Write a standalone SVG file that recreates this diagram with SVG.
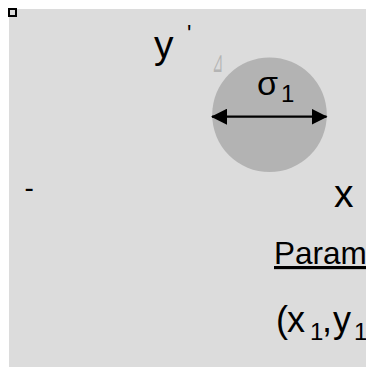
<svg xmlns="http://www.w3.org/2000/svg" width="366" height="367" viewBox="0 0 366 367">
  <style>
    .t { font-family: "Liberation Sans", Arial, sans-serif; fill: #000; }
    .faint { font-family: "DejaVu Sans", sans-serif; fill: #b4b4b4; }
  </style>
  <defs>
    <marker id="ah" viewBox="0 0 16 16" refX="15" refY="8" markerWidth="16" markerHeight="16" markerUnits="userSpaceOnUse" orient="auto-start-reverse">
      <path d="M0,0 L16,8 L0,16 Z" fill="#000"/>
    </marker>
  </defs>
  <rect x="0" y="0" width="366" height="367" fill="#ffffff"/>
  <g id="panel">
    <rect x="9" y="9" width="357" height="358" fill="#dcdcdc"/>
  </g>
  <g id="corner-handle">
    <rect x="9" y="9" width="7" height="7" fill="#dcdcdc" stroke="#000" stroke-width="2"/>
  </g>
  <g id="disk">
    <circle cx="269.5" cy="114.7" r="57.3" fill="#b3b3b3"/>
    <text class="t" x="257" y="95" font-size="34">σ</text>
    <text class="t" x="281" y="102" font-size="24">1</text>
  </g>
  <g id="axis-labels">
    <text class="t" x="154" y="58" font-size="39">y</text>
    <text class="t" x="187" y="42" font-size="23">'</text>
    <text class="t" x="334" y="206.5" font-size="39">x</text>
    <text class="t" x="24.5" y="196.7" font-size="28">-</text>
    <text class="faint" x="212" y="72" font-size="30" transform="translate(212 0) scale(0.45 1) translate(-212 0)">⊿</text>
  </g>
  <g id="params">
    <text class="t" x="274" y="264" font-size="31.5" text-decoration="underline">Param</text>
    <text class="t" x="276" y="332" font-size="36">(</text>
    <text class="t" x="287" y="332" font-size="36">x</text>
    <text class="t" x="310" y="339.5" font-size="24">1</text>
    <text class="t" x="322" y="332" font-size="36">,</text>
    <text class="t" x="333" y="332" font-size="36">y</text>
    <text class="t" x="354" y="339.5" font-size="24">1</text>
  </g>
  <g id="connectors">
    <line x1="212" y1="116.7" x2="326.5" y2="116.7" stroke="#000" stroke-width="2.2" marker-start="url(#ah)" marker-end="url(#ah)"/>
  </g>
</svg>
